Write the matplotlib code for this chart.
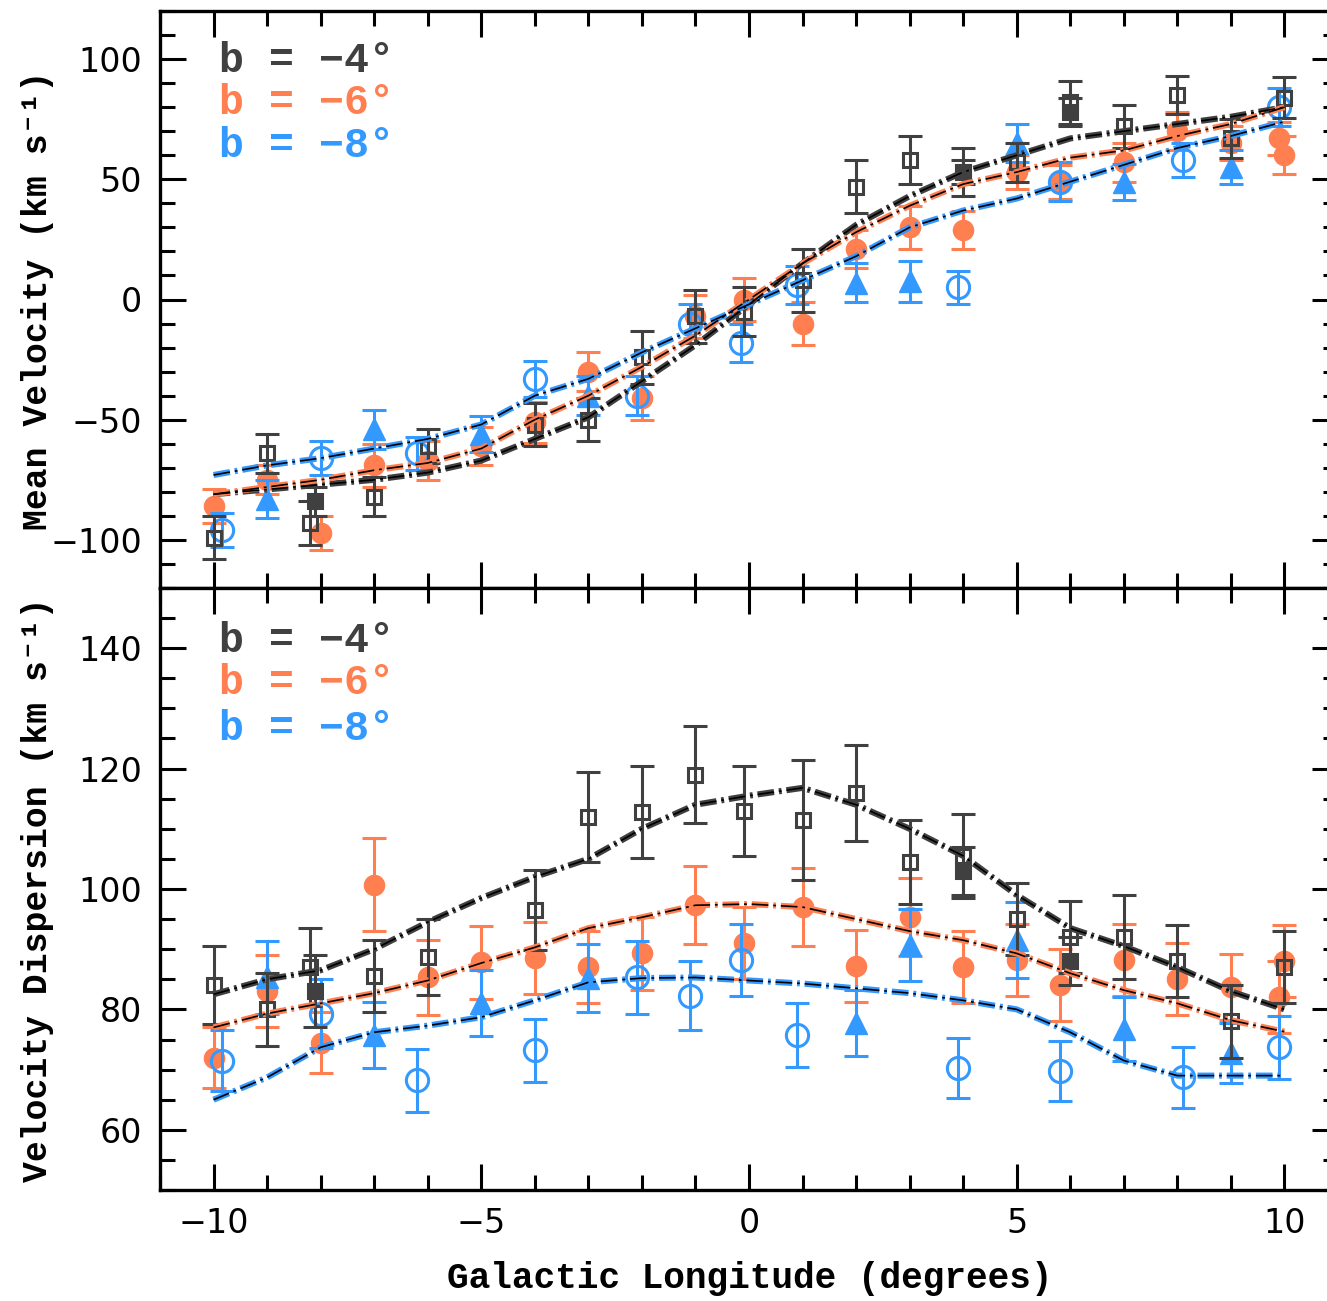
import matplotlib
matplotlib.use('Agg')
import matplotlib.pyplot as plt
from matplotlib.ticker import MultipleLocator

plt.rcParams['lines.scale_dashes'] = False

# ---------------- data ----------------
c_b4 = '#404040'
c_b6 = '#FF7F50'
c_b8 = '#3399FF'

labels = ['b = \u22124\u00b0', 'b = \u22126\u00b0', 'b = \u22128\u00b0']

model_l = [-10, -9, -8, -7, -6, -5, -4, -3, -2, -1, 0, 1, 2, 3, 4, 5, 6, 7, 8, 9, 10]

# --- Mean velocity (top) ---
mv_b4_l = [-10, -9, -8.2, -7, -6, -4, -3, -2, -1, -0.1, 1, 2, 3, 4, 5, 6, 7, 8, 9, 10]
mv_b4_v = [-99, -64, -93, -82, -61, -52, -50, -24, -7, -5, 8, 47, 58, 53, 57, 82, 72, 85, 67, 84]
mv_b4_e = [9, 8, 9, 8, 7, 9, 9, 11, 11, 10, 13, 11, 10, 10, 8, 9, 9, 8, 8, 8.5]

mv_b4f_l = [-8.1, 4, 6]
mv_b4f_v = [-84, 53, 78]
mv_b4f_e = [6, 5, 6]

mv_b6_l = [-10, -9, -8, -7, -6, -5, -4, -3, -2, -1, -0.1, 1, 2, 3, 4, 5, 5.8, 7, 8, 9, 9.9, 10]
mv_b6_v = [-86, -75, -97, -69, -67, -61, -51, -30, -41, -7, 0, -10, 21, 30, 29, 53, 49, 57, 70, 65, 67, 60]
mv_b6_e = [7, 6, 7, 9, 8, 8, 8.5, 8, 9, 9, 9, 9, 8, 9, 8, 7, 7, 8, 8, 7, 7, 8]

mv_b8t_l = [-9, -7, -5, -3, 2, 3, 5, 7, 9]
mv_b8t_v = [-83, -54, -56, -40, 7, 7.5, 65, 49, 55]
mv_b8t_e = [8, 8, 7.5, 8, 8, 8.5, 8, 7.5, 7]

mv_b8c_l = [-9.85, -8, -6.2, -4, -2.1, -1.1, -0.15, 0.9, 3.9, 5.8, 8.1, 9.9]
mv_b8c_v = [-96, -66, -64, -33, -40, -10, -18, 6, 5, 49, 58, 80]
mv_b8c_e = [7, 7, 7, 7.5, 8, 8, 8, 8, 7, 8, 7, 8]

mv_mod_b4 = [-81, -79, -77, -75, -72, -67, -58, -49, -34, -19, -2, 15, 31, 43, 53, 60, 67, 70, 73, 76, 80]
mv_mod_b6 = [-81, -78, -75, -71, -68, -62, -50, -40, -28, -15, 0, 15, 28, 39, 48, 53, 59, 62, 68, 73, 80]
mv_mod_b8 = [-73, -69, -66, -62, -58, -52, -40, -33, -22, -12, -2, 8, 18, 30, 37, 42, 49, 56, 63, 68, 74]

# --- Velocity dispersion (bottom) ---
vd_b4_l = [-10, -9, -8.2, -7, -6, -4, -3, -2, -1, -0.1, 1, 2, 3, 4, 5, 6, 7, 8, 9, 10]
vd_b4_v = [84, 80, 87, 85.5, 88.7, 96.5, 112, 112.8, 119, 113, 111.5, 116, 104.5, 105.5, 95, 92, 92, 88, 78, 87]
vd_b4_e = [6.5, 6, 6.5, 6, 6.3, 6.6, 7.5, 7.7, 8, 7.5, 10, 8, 7, 7, 6, 6, 7, 6, 6, 6]

vd_b4f_l = [-8.1, 4, 6]
vd_b4f_v = [83, 103, 88]
vd_b4f_e = [6, 4, 4]

vd_b6_l = [-10, -9, -8, -7, -6, -5, -4, -3, -2, -1, -0.1, 1, 2, 3, 4, 5, 5.8, 7, 8, 9, 9.9, 10]
vd_b6_v = [72, 83, 74.5, 100.7, 85.3, 87.8, 88.5, 87, 89.3, 97.3, 91, 97, 87.2, 95.3, 87, 88.2, 84, 88.2, 85, 83.7, 82, 88]
vd_b6_e = [5, 6, 5, 7.7, 6.2, 6, 6, 6, 6, 6.5, 6, 6.5, 6, 6.5, 6, 6, 6, 6, 6, 5.5, 6, 6]

vd_b8t_l = [-9, -7, -5, -3, 2, 3, 5, 7, 9]
vd_b8t_v = [85.3, 75.7, 81, 85.2, 77.7, 90.7, 91.5, 76.8, 72.7]
vd_b8t_e = [6, 5.5, 5.5, 5.7, 5.5, 6, 6.3, 5.3, 5]

vd_b8c_l = [-9.85, -8, -6.2, -4, -2.1, -1.1, -0.15, 0.9, 3.9, 5.8, 8.1, 9.9]
vd_b8c_v = [71.5, 79.3, 68.2, 73.2, 85.3, 82.3, 88.2, 75.7, 70.3, 69.8, 68.7, 73.7]
vd_b8c_e = [5, 5.7, 5.2, 5.2, 6, 5.8, 6, 5.3, 5, 5, 5, 5.2]

vd_mod_b4 = [82.5, 85, 86.5, 90, 94.5, 98.5, 102, 105, 110, 114, 115.5, 116.8, 114, 110, 105.5, 99, 93.5, 90.5, 87, 83, 80]
vd_mod_b6 = [77, 79.3, 81, 82.7, 84.8, 87.7, 90.3, 93.5, 95.3, 97.3, 97.5, 97, 95, 93, 91.5, 89.3, 86, 83.2, 81, 78.2, 76.3]
vd_mod_b8 = [65, 68.7, 73.7, 76.2, 77.3, 78.7, 81.5, 84.5, 85.2, 85.3, 84.8, 84.3, 83.5, 82.7, 81.5, 80, 76.2, 71.5, 69, 69, 69]

# ---------------- figure ----------------
W, H = 1327, 1301
fig = plt.figure(figsize=(W / 100, H / 100), dpi=100)
x0, x1 = 160, 1338
ytop, ymid, ybot = 11, 588, 1190
ax1 = fig.add_axes([x0 / W, 1 - ymid / H, (x1 - x0) / W, (ymid - ytop) / H])
ax2 = fig.add_axes([x0 / W, 1 - ybot / H, (x1 - x0) / W, (ybot - ymid) / H])

mono = ['Liberation Mono', 'DejaVu Sans Mono']
tickfont = 'DejaVu Sans'

ebkw = dict(elinewidth=2.2, capsize=8.5, capthick=2.2, linestyle='none')
dash = (12, 3.5, 2, 3.5)


def draw(ax, b4, b4f, b6, b8t, b8c, mods):
    # orange filled circles
    ax.errorbar(b6[0], b6[1], yerr=b6[2], fmt='o', color=c_b6, ms=14.5,
                mec=c_b6, mfc=c_b6, ecolor=c_b6, zorder=3, **ebkw)
    # blue triangles
    ax.errorbar(b8t[0], b8t[1], yerr=b8t[2], fmt='^', color=c_b8, ms=16,
                mec=c_b8, mfc=c_b8, ecolor=c_b8, zorder=4, **ebkw)
    # blue open circles
    ax.errorbar(b8c[0], b8c[1], yerr=b8c[2], fmt='o', color=c_b8, ms=16,
                mec=c_b8, mfc='none', mew=2.2, ecolor=c_b8, zorder=4, **ebkw)
    # black squares
    ax.errorbar(b4[0], b4[1], yerr=b4[2], fmt='s', color=c_b4, ms=10,
                mec=c_b4, mfc='none', mew=2.2, ecolor=c_b4, zorder=5, **ebkw)
    ax.errorbar(b4f[0], b4f[1], yerr=b4f[2], fmt='s', color=c_b4, ms=10,
                mec=c_b4, mfc=c_b4, mew=2.2, ecolor=c_b4, zorder=5, **ebkw)
    # model lines: thick coloured dash-dot with a thin black core
    for m, c in zip(mods, [c_b4, c_b6, c_b8]):
        l1, = ax.plot(model_l, m, color=c, lw=4.4, zorder=6)
        l1.set_dashes(dash)
        l2, = ax.plot(model_l, m, color='black', lw=1.2, zorder=7)
        l2.set_dashes(dash)


draw(ax1,
     (mv_b4_l, mv_b4_v, mv_b4_e), (mv_b4f_l, mv_b4f_v, mv_b4f_e),
     (mv_b6_l, mv_b6_v, mv_b6_e), (mv_b8t_l, mv_b8t_v, mv_b8t_e),
     (mv_b8c_l, mv_b8c_v, mv_b8c_e), (mv_mod_b4, mv_mod_b6, mv_mod_b8))
draw(ax2,
     (vd_b4_l, vd_b4_v, vd_b4_e), (vd_b4f_l, vd_b4f_v, vd_b4f_e),
     (vd_b6_l, vd_b6_v, vd_b6_e), (vd_b8t_l, vd_b8t_v, vd_b8t_e),
     (vd_b8c_l, vd_b8c_v, vd_b8c_e), (vd_mod_b4, vd_mod_b6, vd_mod_b8))

ax1.set_xlim(-11, 11)
ax2.set_xlim(-11, 11)
ax1.set_ylim(-120, 120)
ax2.set_ylim(50, 150)

ax1.yaxis.set_major_locator(MultipleLocator(50))
ax1.yaxis.set_minor_locator(MultipleLocator(10))
ax2.yaxis.set_major_locator(MultipleLocator(20))
ax2.yaxis.set_minor_locator(MultipleLocator(5))

for ax in (ax1, ax2):
    ax.xaxis.set_major_locator(MultipleLocator(5))
    ax.xaxis.set_minor_locator(MultipleLocator(1))
    ax.tick_params(which='both', direction='in', top=True, right=True,
                   width=2.2, color='black')
    ax.tick_params(which='major', length=19)
    ax.tick_params(which='minor', length=11)
    ax.tick_params(axis='y', which='major', labelsize=24, pad=13)
    ax.tick_params(axis='x', which='major', labelsize=24, pad=12)
    for sp in ax.spines.values():
        sp.set_linewidth(2.4)
    for lab in ax.get_xticklabels() + ax.get_yticklabels():
        lab.set_family(tickfont)

ax1.tick_params(axis='x', labelbottom=False)

# in-panel legend texts
for ax, ys in ((ax1, (0.894, 0.821, 0.747)), (ax2, (0.894, 0.824, 0.748))):
    for lab, c, yy in zip(labels, [c_b4, c_b6, c_b8], ys):
        ax.text(0.050, yy, lab, color=c, transform=ax.transAxes,
                ha='left', va='baseline', fontsize=30, family=mono,
                fontweight='bold')

fig.text(38 / W, 1 - 300 / H, 'Mean Velocity (km s\u207b\u00b9)', rotation=90,
         ha='center', va='center', fontsize=25, family=mono, fontweight='bold')
fig.text(38 / W, 1 - 890 / H, 'Velocity Dispersion (km s\u207b\u00b9)', rotation=90,
         ha='center', va='center', fontsize=25, family=mono, fontweight='bold')
fig.text(750 / W, 1 - 1278 / H, 'Galactic Longitude (degrees)',
         ha='center', va='center', fontsize=26, family=mono, fontweight='bold')

fig.savefig('out.png', dpi=100)
